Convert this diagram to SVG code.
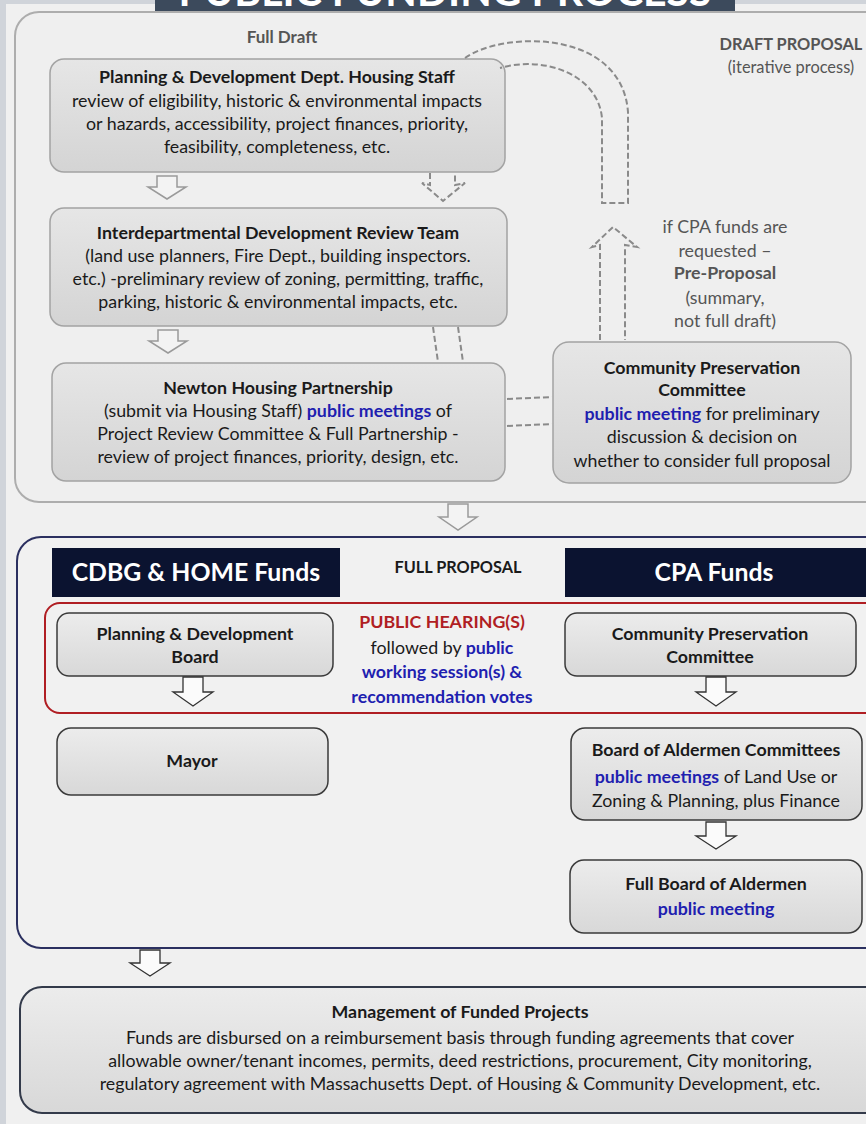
<svg xmlns="http://www.w3.org/2000/svg" width="866" height="1124" viewBox="0 0 866 1124">
<defs>
<linearGradient id="g1" x1="0" y1="0" x2="0" y2="1">
<stop offset="0" stop-color="#e6e6e6"/><stop offset="1" stop-color="#d4d4d4"/>
</linearGradient>
<linearGradient id="g2" x1="0" y1="0" x2="0" y2="1">
<stop offset="0" stop-color="#ececec"/><stop offset="1" stop-color="#d8d8d8"/>
</linearGradient>
<style>
text{font-family:Lato,"Open Sans","Liberation Sans",sans-serif;font-size:17.8px;fill:#1a1a1a;text-anchor:middle}
.b{font-weight:bold}
.blue{fill:#1f1fb0;font-weight:bold}
.red{fill:#b01e23;font-weight:bold}
.gray{fill:#555}
.n1{fill:url(#g1);stroke:#a3a3a3;stroke-width:1.5}
.n2{fill:url(#g2);stroke:#3a3a3a;stroke-width:1.5}
.ha{fill:#f3f3f3;stroke:#9a9a9a;stroke-width:1.5}
.hb{fill:#fbfbfb;stroke:#333;stroke-width:1.3}
.dash{fill:none;stroke:#8a8a8a;stroke-width:2;stroke-dasharray:6 3}
.hd{fill:#0b1330}
.ht{fill:#fff;font-size:24.8px;font-weight:bold}
</style>
</defs>
<rect width="866" height="1124" fill="#f0f0f0"/>
<rect x="0" y="0" width="6" height="1124" fill="#d0d4da"/>
<rect x="0" y="0" width="866" height="4" fill="#d0d4da"/>

<g id="title">
<rect x="155" y="-2" width="580" height="25" fill="#3c4a5c"/>
<text x="445" y="6" style="font-size:42px;font-weight:bold;fill:#fff" textLength="533" lengthAdjust="spacingAndGlyphs">PUBLIC FUNDING PROCESS</text>
</g>

<g id="draft-section">
<rect x="15" y="12" width="880" height="490" rx="24" fill="#efefef" stroke="#adadad" stroke-width="2"/>
<text x="282" y="43" class="b gray" style="font-size:17px">Full Draft</text>
<text x="791" y="50" class="b gray" style="font-size:16.4px">DRAFT PROPOSAL</text>
<text x="791" y="73" class="gray" style="font-size:16.4px">(iterative process)</text>
<text x="725" y="233" class="gray">if CPA funds are</text>
<text x="725" y="257" class="gray">requested –</text>
<text x="725" y="279" class="b gray">Pre-Proposal</text>
<text x="725" y="304" class="gray">(summary,</text>
<text x="725" y="327" class="gray">not full draft)</text>
</g>

<g id="housing-staff">
<rect class="n1" x="50" y="59" width="455" height="113" rx="14"/>
<text x="277" y="83" class="b">Planning &amp; Development Dept. Housing Staff</text>
<text x="277" y="107">review of eligibility, historic &amp; environmental impacts</text>
<text x="277" y="130">or hazards, accessibility, project finances, priority,</text>
<text x="277" y="153">feasibility, completeness, etc.</text>
</g>

<g id="review-team">
<rect class="n1" x="50" y="208" width="457" height="118" rx="14"/>
<text x="278" y="239" class="b">Interdepartmental Development Review Team</text>
<text x="278" y="262">(land use planners, Fire Dept., building inspectors.</text>
<text x="278" y="285">etc.) -preliminary review of zoning, permitting, traffic,</text>
<text x="278" y="308">parking, historic &amp; environmental impacts, etc.</text>
</g>

<g id="housing-partnership">
<rect class="n1" x="52" y="363" width="453" height="118" rx="14"/>
<text x="278" y="394" class="b">Newton Housing Partnership</text>
<text x="278" y="417">(submit via Housing Staff)  <tspan class="blue">public meetings</tspan> of</text>
<text x="278" y="440">Project Review Committee &amp; Full Partnership -</text>
<text x="278" y="463">review of project finances, priority, design, etc.</text>
</g>

<g id="cpc-pre">
<rect class="n1" x="553" y="342" width="298" height="141" rx="16"/>
<text x="702" y="374" class="b">Community Preservation</text>
<text x="702" y="396" class="b">Committee</text>
<text x="702" y="420"><tspan class="blue">public meeting</tspan> for preliminary</text>
<text x="702" y="443">discussion &amp; decision on</text>
<text x="702" y="467">whether to consider full proposal</text>
</g>

<g id="full-proposal-section">
<rect x="17" y="537" width="880" height="411" rx="24" fill="#f1f1f1" stroke="#2b3060" stroke-width="2"/>
<rect class="hd" x="52" y="548" width="288" height="49"/>
<text x="196" y="581" class="ht">CDBG &amp; HOME Funds</text>
<text x="458" y="573" class="b" style="font-size:16.3px">FULL PROPOSAL</text>
<rect class="hd" x="565" y="548" width="310" height="49"/>
<text x="714" y="581" class="ht">CPA Funds</text>
<rect x="45" y="603" width="840" height="110" rx="15" fill="none" stroke="#b01e23" stroke-width="2"/>
<text x="442" y="628" class="red">PUBLIC HEARING(S)</text>
<text x="442" y="654">followed by <tspan class="blue">public</tspan></text>
<text x="442" y="678" class="blue">working session(s) &amp;</text>
<text x="442" y="703" class="blue">recommendation votes</text>
</g>

<g id="pd-board">
<rect class="n2" x="57" y="613" width="276" height="63" rx="12"/>
<text x="195" y="640" class="b">Planning &amp; Development</text>
<text x="195" y="663" class="b">Board</text>
</g>

<g id="cpc-full">
<rect class="n2" x="565" y="613" width="291" height="63" rx="12"/>
<text x="710" y="640" class="b">Community Preservation</text>
<text x="710" y="663" class="b">Committee</text>
</g>

<g id="mayor">
<rect class="n2" x="57" y="728" width="271" height="67" rx="14"/>
<text x="192" y="767" class="b">Mayor</text>
</g>

<g id="aldermen-committees">
<rect class="n2" x="571" y="728" width="291" height="92" rx="14"/>
<text x="716" y="756" class="b">Board of Aldermen Committees</text>
<text x="716" y="783"><tspan class="blue">public meetings</tspan> of Land Use or</text>
<text x="716" y="807">Zoning &amp; Planning, plus Finance</text>
</g>

<g id="full-board">
<rect class="n2" x="570" y="860" width="292" height="73" rx="14"/>
<text x="716" y="890" class="b">Full Board of Aldermen</text>
<text x="716" y="915" class="blue">public meeting</text>
</g>

<g id="management">
<rect x="20" y="987" width="880" height="126" rx="22" fill="url(#g2)" stroke="#333a4a" stroke-width="2"/>
<text x="460" y="1018" class="b">Management of Funded Projects</text>
<text x="460" y="1044">Funds are disbursed on a reimbursement basis through funding agreements that cover</text>
<text x="460" y="1067">allowable owner/tenant incomes, permits, deed restrictions, procurement, City monitoring,</text>
<text x="460" y="1090">regulatory agreement with Massachusetts Dept. of Housing &amp; Community Development, etc.</text>
</g>

<g id="connectors">
<polygon class="ha" points="157,176 177,176 177,187 186,187 167,199 148,187 157,187"/>
<polygon class="ha" points="158,330 178,330 178,341 187,341 168,353 149,341 158,341"/>
<polygon class="ha" points="448,504 468,504 468,517 477,517 458,530 439,517 448,517"/>
<polygon class="hb" points="183,677 203,677 203,692 213,692 193,706 173,692 183,692"/>
<polygon class="hb" points="706,677 726,677 726,692 736,692 716,706 696,692 706,692"/>
<polygon class="hb" points="706,822 726,822 726,836 736,836 716,849 696,836 706,836"/>
<polygon class="hb" points="140,950 160,950 160,963 170,963 150,976 130,963 140,963"/>
<path class="dash" d="M430,173 L430,185 L422,183 L443,201 L465,183 L455,185 L455,173"/>
<path class="dash" d="M465,58 C505,30 622,30 628,112 L628,203 L602,203 L602,118 C598,75 545,55 500,68"/>
<path class="dash" d="M600,340 L600,245 L592,247 L613,227 L637,247 L625,245 L625,340"/>
<path class="dash" d="M433,327 L438,362 M458,327 L463,362"/>
<path class="dash" d="M507,399 L552,397 M507,426 L552,424"/>
</g>
</svg>
